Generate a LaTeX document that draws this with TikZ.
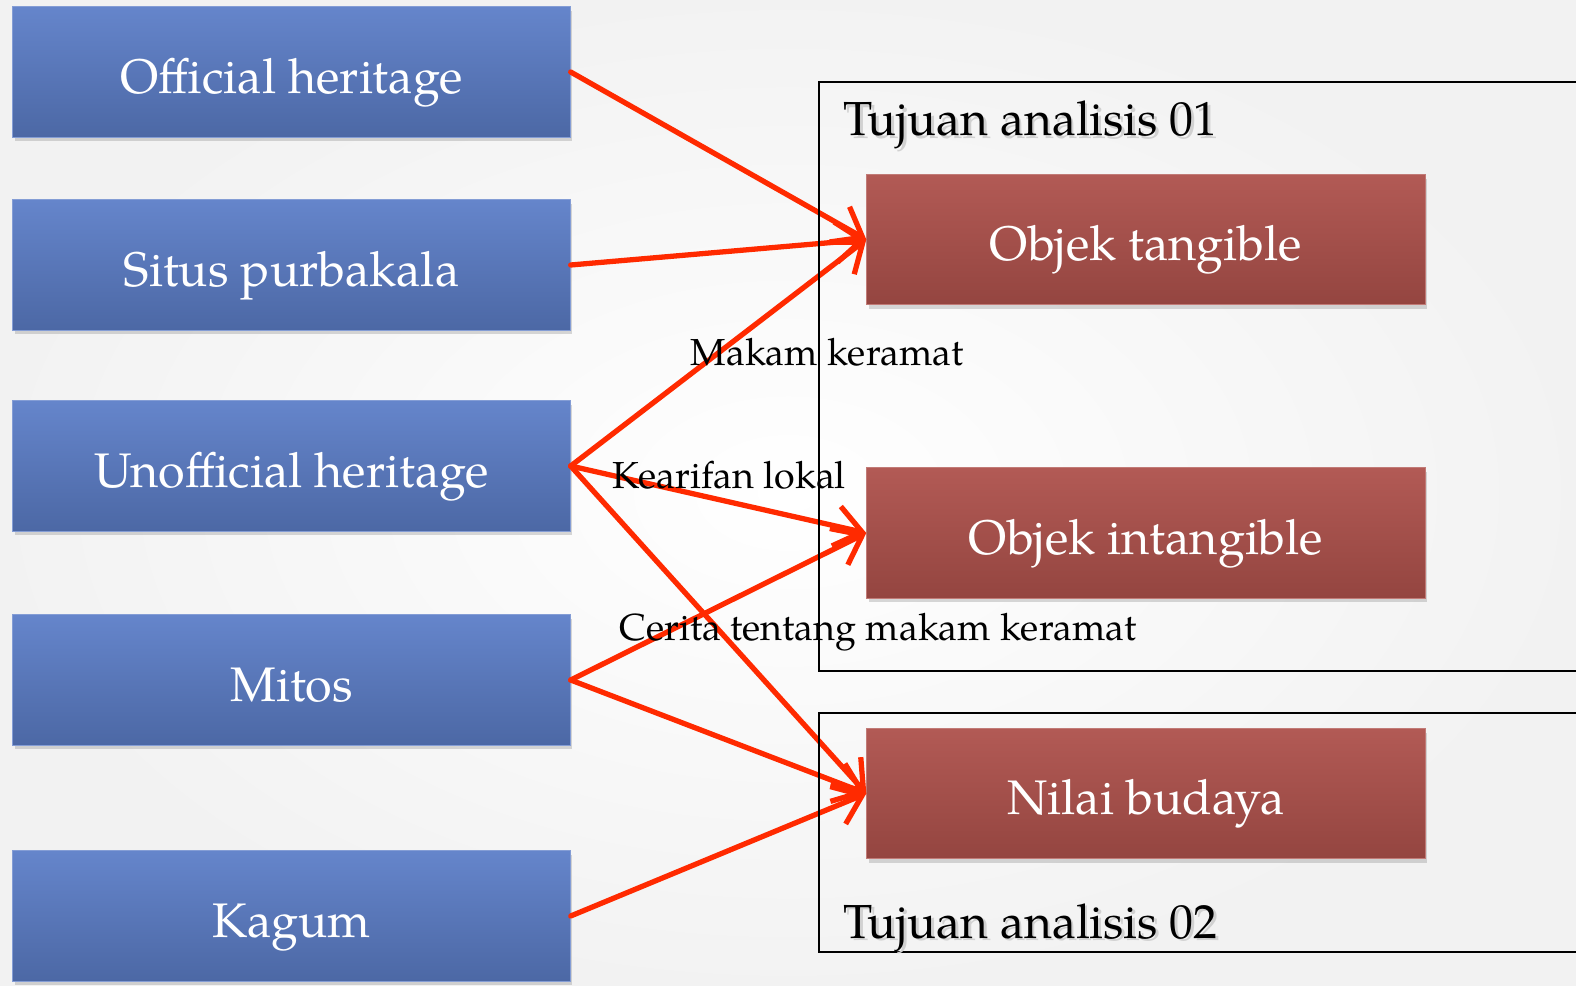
\documentclass[tikz,border=0pt]{standalone}
\usepackage{fontspec}
\setmainfont{TeX Gyre Pagella}
\usetikzlibrary{arrows.meta,shadows}
\definecolor{blueTop}{HTML}{6585CB}
\definecolor{blueBot}{HTML}{4C68A5}
\definecolor{redTop}{HTML}{B25A55}
\definecolor{redBot}{HTML}{944540}
\definecolor{arrowRed}{HTML}{FF2A00}
\begin{document}
\begin{tikzpicture}[x=0.01cm,y=-0.01cm,
  box/.style={minimum height=1.3cm,inner sep=0pt,text=white,
    text height=0.45cm,text depth=0.03cm,font=\fontsize{13.8}{16}\selectfont,
    drop shadow={opacity=0.3,shadow xshift=0.6pt,shadow yshift=-1.2pt}},
  srcbox/.style={box,minimum width=5.57cm,top color=blueTop,bottom color=blueBot,draw=blueTop!80!white,line width=0.3pt},
  goalbox/.style={box,minimum width=5.58cm,top color=redTop,bottom color=redBot,draw=redTop!80!white,line width=0.3pt},
  frame/.style={draw=black,line width=0.5pt},
  title/.style={anchor=base west,inner sep=0pt,font=\fontsize{13.6}{16}\selectfont},
  note/.style={anchor=base,inner sep=0pt,font=\fontsize{10.7}{13}\selectfont},
  link/.style={draw=arrowRed,line width=1.5pt,line cap=round,-{Straight Barb[length=7.5pt,width=11.5pt,line width=1.5pt]}}]
\useasboundingbox (0,0) rectangle (1576,985);
\shade[inner color=white,outer color=black!5] (0,0) rectangle (1576,985);
% sources
\node[srcbox] (official) at (291.5,72) {Official heritage};
\node[srcbox] (situs) at (291.5,265) {Situs purbakala};
\node[srcbox] (unofficial) at (291.5,466) {Unofficial heritage};
\node[srcbox] (mitos) at (291.5,680) {Mitos};
\node[srcbox] (kagum) at (291.5,916) {Kagum};
% goals
\node[goalbox] (tangible) at (1146,239.5) {Objek tangible};
\node[goalbox] (intangible) at (1146,533) {Objek intangible};
\node[goalbox] (nilai) at (1146,793.5) {Nilai budaya};
\foreach \a/\b in {official/tangible,situs/tangible,unofficial/tangible,unofficial/intangible,
  unofficial/nilai,mitos/intangible,mitos/nilai,kagum/nilai}
  \draw[link] (\a.east) -- (\b.west);
% frames
\draw[frame] (1600,82) -- (819,82) -- (819,671) -- (1600,671);
\draw[frame] (1600,713) -- (819,713) -- (819,952) -- (1600,952);
\node[title,text=black!18] at (845.5,138.5) {Tujuan analisis 01};
\node[title] (goal1) at (843,136) {Tujuan analisis 01};
\node[title,text=black!18] at (845.5,940.5) {Tujuan analisis 02};
\node[title] (goal2) at (843,938) {Tujuan analisis 02};
\node[note] (makam) at (827,365) {Makam keramat};
\node[note] (kearifan) at (729,488) {Kearifan lokal};
\node[note] (cerita) at (878,640) {Cerita tentang makam keramat};
\end{tikzpicture}
\end{document}
